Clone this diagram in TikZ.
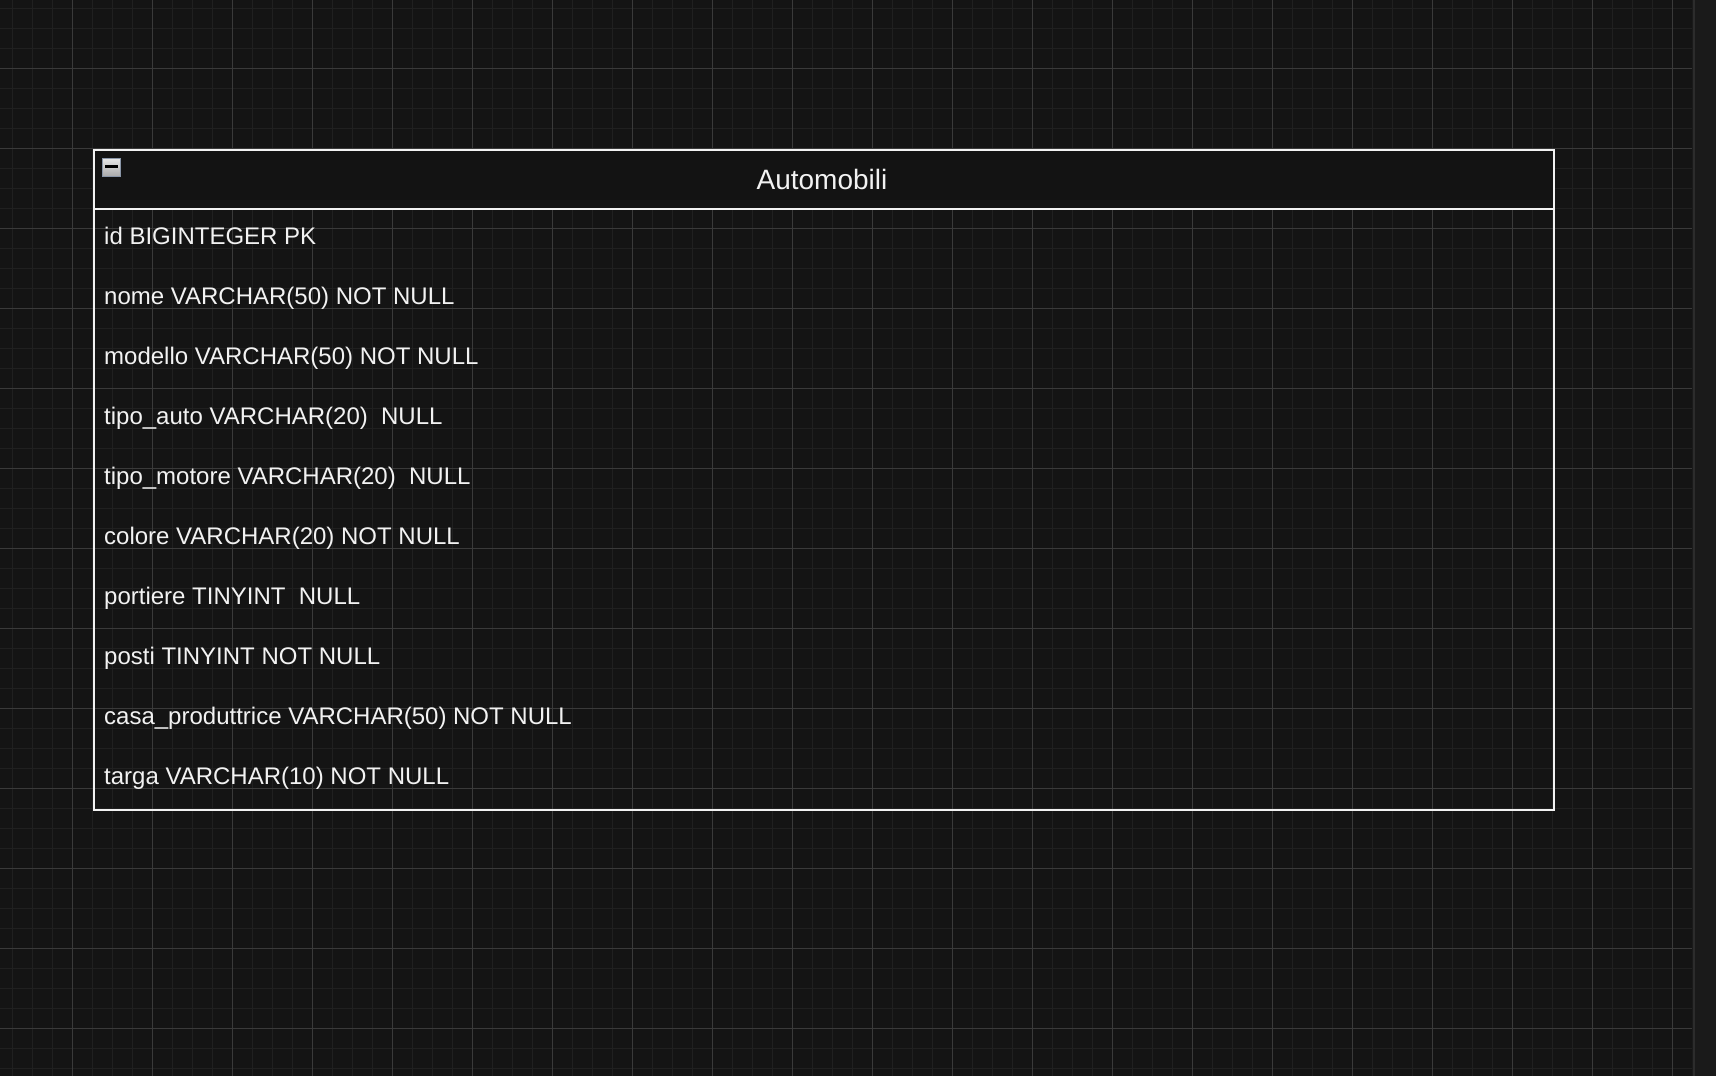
\documentclass[tikz,border=0pt]{standalone}
\usepackage{fontspec}
\setmainfont{Liberation Sans}
\definecolor{bgc}{HTML}{141414}
\definecolor{minorc}{HTML}{202020}
\definecolor{majorc}{HTML}{3A3A3A}
\definecolor{edgec}{HTML}{F2F2F2}
\definecolor{hdrc}{HTML}{131313}
\definecolor{sidec}{HTML}{1A1A1A}
\definecolor{sidelinec}{HTML}{2C2C2C}
\definecolor{iconborder}{HTML}{8A96A8}
\definecolor{icontop}{HTML}{E6E6E6}
\definecolor{iconbot}{HTML}{ABABAB}
\tikzset{
  minorline/.style={minorc, line width=1.6pt},
  majorline/.style={majorc, line width=1pt},
  tablebox/.style={draw=edgec, line width=2pt, inner sep=0pt, anchor=north west},
  headbox/.style={fill=hdrc, inner sep=0pt, anchor=north west},
  rowtext/.style={text=edgec, anchor=base west, inner sep=0pt, font=\fontsize{24}{28}\selectfont},
  titletext/.style={text=edgec, anchor=base, inner sep=0pt, font=\fontsize{28}{32}\selectfont}
}
\begin{document}
\begin{tikzpicture}[x=1pt, y=-1pt]
\useasboundingbox (0,0) rectangle (1716,1076);
\fill[bgc] (0,0) rectangle (1716,1076);
% minor grid
\foreach \i in {0,...,84} { \draw[minorline] (12.5+20*\i,0) -- (12.5+20*\i,1076); }
\foreach \j in {0,...,53} { \draw[minorline] (0,8.3+20*\j) -- (1692,8.3+20*\j); }
% major grid
\foreach \i in {0,...,20} { \draw[majorline] (72.5+80*\i,0) -- (72.5+80*\i,1076); }
\foreach \j in {0,...,13} { \draw[majorline] (0,68.3+80*\j) -- (1692,68.3+80*\j); }
% right sidebar
\fill[sidec] (1692,0) rectangle (1716,1076);
\draw[sidelinec, line width=1.5pt] (1694,0) -- (1694,1076);
% table
\node[headbox, minimum width=1460pt, minimum height=60pt] (hdr) at (93,149) {};
\node[tablebox, minimum width=1460pt, minimum height=660pt] (tbl) at (93,149) {};
\draw[edgec, line width=2pt] (hdr.south west) -- (hdr.south east);
% collapse icon
\node[draw=iconborder, line width=1pt, top color=icontop, bottom color=iconbot, minimum width=18pt, minimum height=17.5pt, inner sep=0pt, anchor=north west] (icon) at (102,158) {};
\fill[black] ([xshift=2.7pt,yshift=-6.7pt]icon.north west) rectangle ([xshift=-2.7pt,yshift=-10pt]icon.north east);
% title
\node[titletext] (title) at (822,189) {Automobili};
% rows
\node[rowtext] (r0) at (104,244) {id BIGINTEGER PK};
\node[rowtext] (r1) at (104,304) {nome VARCHAR(50) NOT NULL};
\node[rowtext] (r2) at (104,364) {modello VARCHAR(50) NOT NULL};
\node[rowtext] (r3) at (104,424) {tipo\_auto VARCHAR(20)\ \ NULL};
\node[rowtext] (r4) at (104,484) {tipo\_motore VARCHAR(20)\ \ NULL};
\node[rowtext] (r5) at (104,544) {colore VARCHAR(20) NOT NULL};
\node[rowtext] (r6) at (104,604) {portiere TINYINT\ \ NULL};
\node[rowtext] (r7) at (104,664) {posti TINYINT NOT NULL};
\node[rowtext] (r8) at (104,724) {casa\_produttrice VARCHAR(50) NOT NULL};
\node[rowtext] (r9) at (104,784) {targa VARCHAR(10) NOT NULL};
\end{tikzpicture}
\end{document}
